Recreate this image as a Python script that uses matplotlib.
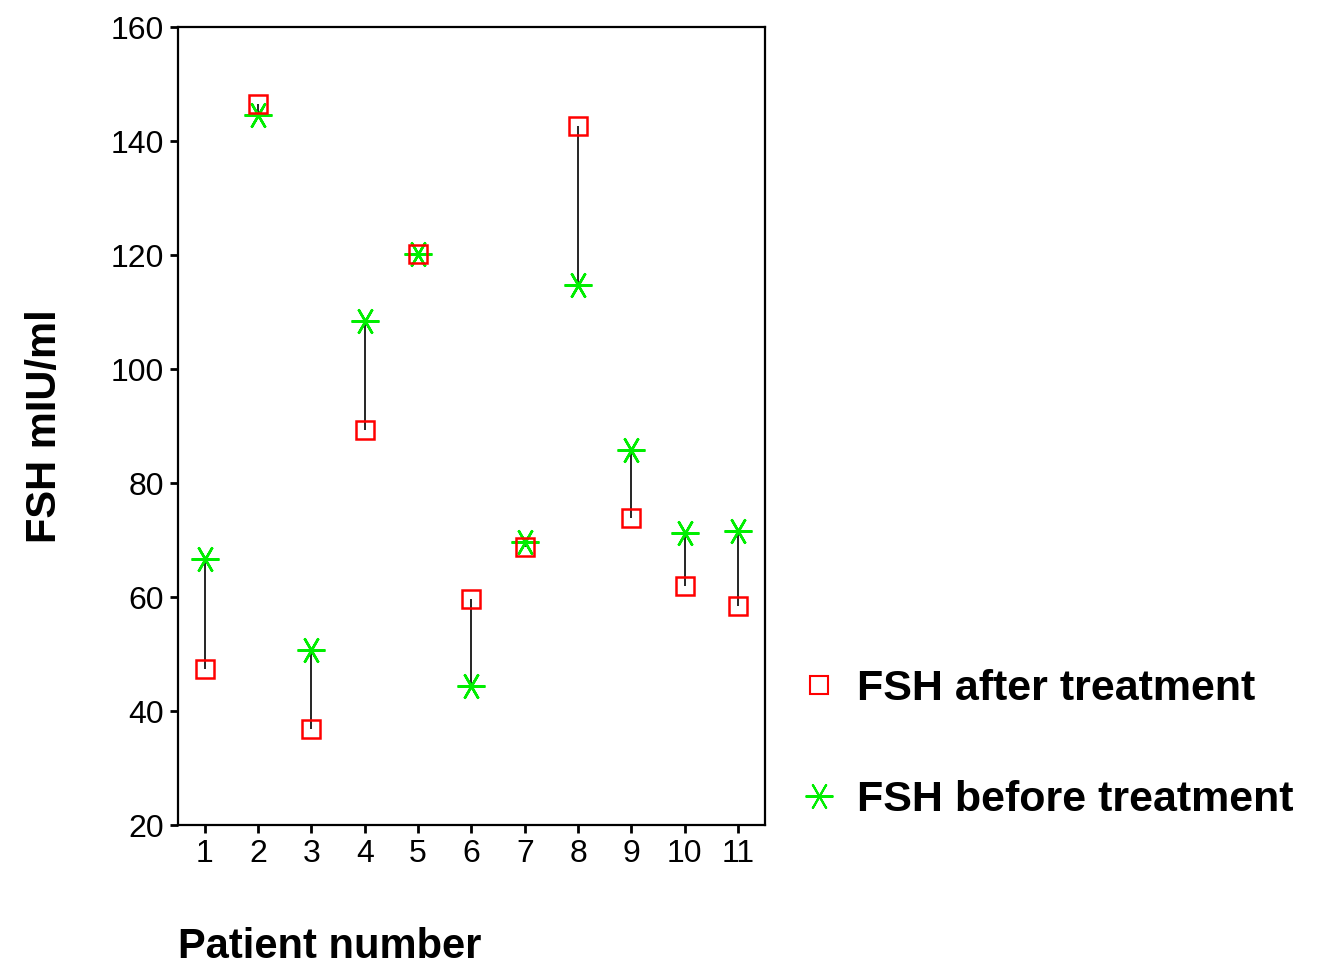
import matplotlib.pyplot as plt
from matplotlib.lines import Line2D

patients = [1, 2, 3, 4, 5, 6, 7, 8, 9, 10, 11]
fsh_after = [47.4, 146.5, 36.8, 89.3, 120.2, 59.6, 68.8, 142.6, 73.9, 61.9, 58.4]
fsh_before = [66.7, 144.6, 50.7, 108.4, 120.2, 44.4, 69.6, 114.7, 85.8, 71.2, 71.6]

plt.rcParams['font.family'] = ['Liberation Sans', 'DejaVu Sans']

fig = plt.figure(figsize=(13.4, 9.69), dpi=100)
ax = fig.add_axes([0.1328, 0.1486, 0.438, 0.8234])

# vertical connectors between before/after
ax.vlines(patients, fsh_after, fsh_before, color='black', linewidth=1.2, zorder=1)

ax.plot(patients, fsh_after, linestyle='none', marker='s', markersize=13,
        markerfacecolor='none', markeredgecolor='#ff0000', markeredgewidth=1.8, zorder=3)
ax.plot(patients, fsh_before, linestyle='none', marker=(6, 2, 90), markersize=20,
        color='#00ee00', markeredgewidth=1.8, zorder=2)

ax.set_xlim(0.5, 11.5)
ax.set_ylim(20, 160)
ax.set_xticks(patients)
ax.set_yticks([20, 40, 60, 80, 100, 120, 140, 160])
ax.tick_params(direction='out', length=6, width=2, labelsize=23, pad=4)
for s in ax.spines.values():
    s.set_linewidth(1.6)

ax.set_ylabel('FSH mIU/ml', fontsize=30, fontweight='bold', labelpad=33)
ax.set_xlabel('Patient number', fontsize=30, fontweight='bold')
ax.xaxis.set_label_coords(0.0, -0.128)
ax.xaxis.label.set_horizontalalignment('left')

handles = [
    Line2D([], [], linestyle='none', marker='s', markersize=13, markerfacecolor='none',
           markeredgecolor='#ff0000', markeredgewidth=1.5),
    Line2D([], [], linestyle='none', marker=(6, 2, 90), markersize=20,
           color='#00ee00', markeredgewidth=1.5),
]
fig.legend(handles, ['FSH after treatment', 'FSH before treatment'],
           loc='upper left', bbox_to_anchor=(0.566, 0.35), frameon=False,
           prop={'size': 31, 'weight': 'bold'}, labelspacing=1.65,
           handlelength=1.0, handletextpad=0.4)

fig.savefig('out.png', dpi=100)
